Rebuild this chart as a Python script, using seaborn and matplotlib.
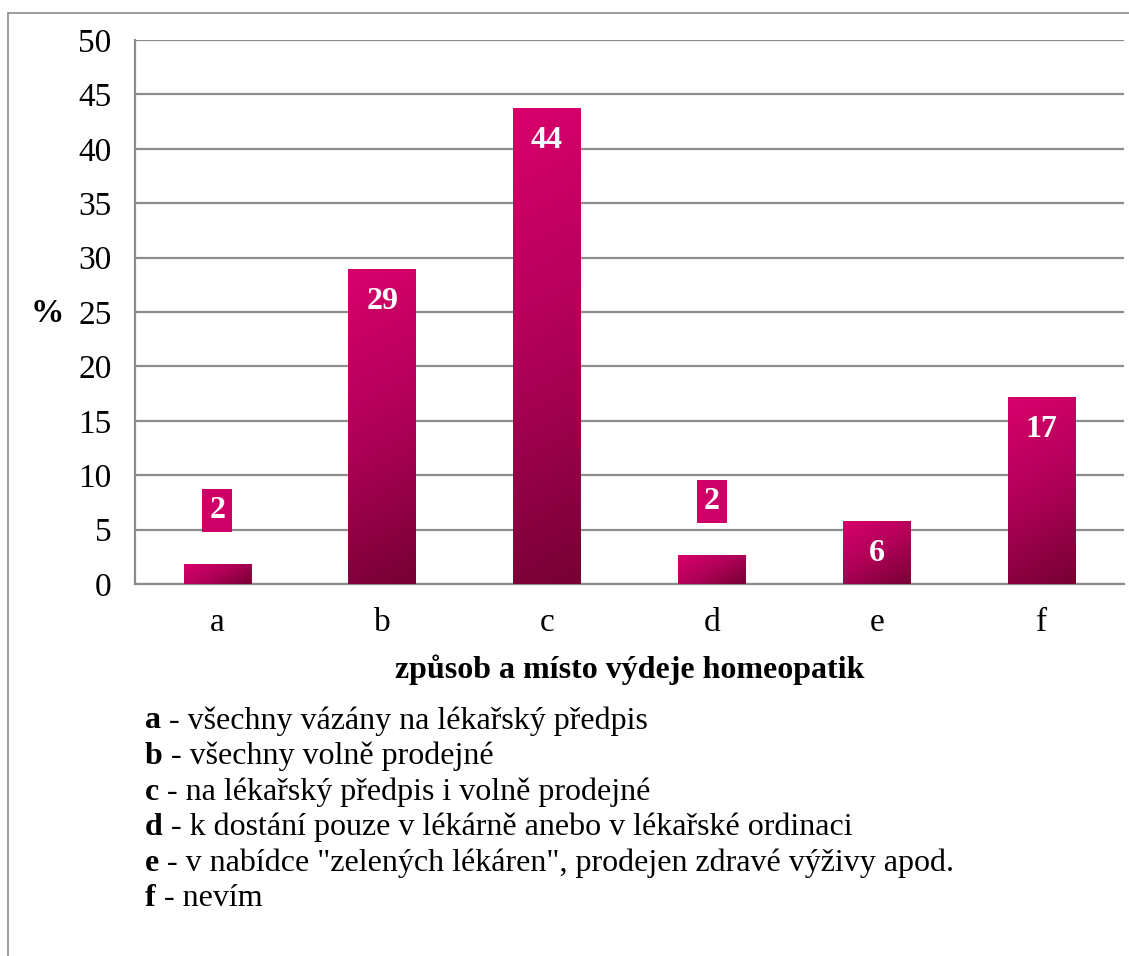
import numpy as np
import pandas as pd
import matplotlib
matplotlib.use("Agg")
import matplotlib.pyplot as plt
import seaborn as sns
from matplotlib.colors import LinearSegmentedColormap
from matplotlib.lines import Line2D

# data
kategorie = ["a", "b", "c", "d", "e", "f"]
procenta = [1.8, 28.9, 43.7, 2.6, 5.7, 17.1]
popisky = ["2", "29", "44", "2", "6", "17"]
legenda = [
    "všechny vázány na lékařský předpis",
    "všechny volně prodejné",
    "na lékařský předpis i volně prodejné",
    "k dostání pouze v lékárně anebo v lékařské ordinaci",
    "v nabídce \"zelených lékáren\", prodejen zdravé výživy apod.",
    "nevím",
]

df = pd.DataFrame({"kategorie": kategorie, "procenta": procenta})

sns.set_style("white")
plt.rcParams["font.family"] = ["Liberation Serif", "DejaVu Serif"]
plt.rcParams["text.color"] = "black"
plt.rcParams["axes.labelcolor"] = "black"

W, H = 1129, 956
fig = plt.figure(figsize=(W / 100, H / 100), dpi=100)
ax = fig.add_axes([135 / W, 1 - 584 / H, (1124 - 135) / W, (584 - 40) / H])

sns.barplot(data=df, x="kategorie", y="procenta", ax=ax, width=0.41,
            color="#c00060", saturation=1, zorder=3)

ax.set_ylim(0, 50)
ax.set_xlim(-0.5, len(kategorie) - 0.5)
ax.set_yticks(np.arange(0, 51, 5))
ax.yaxis.grid(True, color="#8c8c8c", lw=1.6, zorder=0)
ax.xaxis.grid(False)
ax.set_axisbelow(True)

for s in ["top", "right"]:
    ax.spines[s].set_visible(False)
for s in ["left", "bottom"]:
    ax.spines[s].set_color("#8c8c8c")
    ax.spines[s].set_linewidth(1.6)

ax.set_xticks(range(len(kategorie)))
ax.set_xticks(np.arange(-0.5, len(kategorie), 1), minor=True)
ax.tick_params(axis="x", which="major", length=0, labelsize=24, pad=17,
               labelcolor="black")
ax.tick_params(axis="x", which="minor", length=7, width=1.6, color="#8c8c8c",
               direction="out")
ax.tick_params(axis="y", length=7, width=1.6, color="#8c8c8c", labelsize=24,
               pad=10, labelcolor="black", direction="out")

ax.set_xlabel("způsob a místo výdeje homeopatik", fontsize=23,
              fontweight="bold", labelpad=12)
ax.set_ylabel("%", fontsize=24, fontweight="bold", rotation=0, va="center",
              ha="center")
ax.yaxis.set_label_coords(-0.089, 0.497)

# gradient fill of bars
cmap = LinearSegmentedColormap.from_list("ruz", ["#d8006c", "#b00058", "#760033"])
fig.canvas.draw()
theta = np.deg2rad(28)
for p in ax.patches:
    x0, w, h = p.get_x(), p.get_width(), p.get_height()
    (px0, py0), (px1, py1) = ax.transData.transform([(x0, 0), (x0 + w, h)])
    wpx, hpx = px1 - px0, py1 - py0
    xs = np.linspace(0, wpx, 60)
    ys = np.linspace(0, hpx, 300)  # distance from the top
    X, Y = np.meshgrid(xs, ys)
    t = (X * np.sin(theta) + Y * np.cos(theta)) / (wpx * np.sin(theta) + hpx * np.cos(theta))
    ax.imshow(t, cmap=cmap, vmin=0, vmax=1, extent=(x0, x0 + w, 0, h),
              aspect="auto", origin="upper", zorder=3, interpolation="bilinear")
    p.set_facecolor("none")
    p.set_edgecolor("none")
ax.set_xlim(-0.5, len(kategorie) - 0.5)
ax.set_ylim(0, 50)

# data labels
for i, (v, lab) in enumerate(zip(procenta, popisky)):
    if v < 4:
        ax.annotate(lab, (i, v), xytext=(0, 39), textcoords="offset points",
                    ha="center", va="center", color="white", fontsize=23,
                    fontweight="bold", zorder=5,
                    bbox=dict(boxstyle="square,pad=0.22", fc="#cc0066", ec="none"))
    else:
        ax.annotate(lab, (i, v), xytext=(0, -23), textcoords="offset points",
                    ha="center", va="center", color="white", fontsize=23,
                    fontweight="bold", zorder=5)

# legend text below the chart
y0 = 1 - 721 / H
for k, (kat, txt) in enumerate(zip(kategorie, legenda)):
    y = y0 - k * 35.6 / H
    b = fig.text(145 / W, y, kat, fontsize=23, fontweight="bold", va="center")
    ax.annotate(" - " + txt, xy=(1, 0), xycoords=b, va="bottom", ha="left",
                fontsize=23, annotation_clip=False)

# outer frame
fig.add_artist(Line2D([8 / W, 8 / W], [0, 1 - 13 / H], color="#8c8c8c", lw=1.2))
fig.add_artist(Line2D([8 / W, 1], [1 - 13 / H, 1 - 13 / H], color="#8c8c8c", lw=1.2))

fig.savefig("out.png", dpi=100)
